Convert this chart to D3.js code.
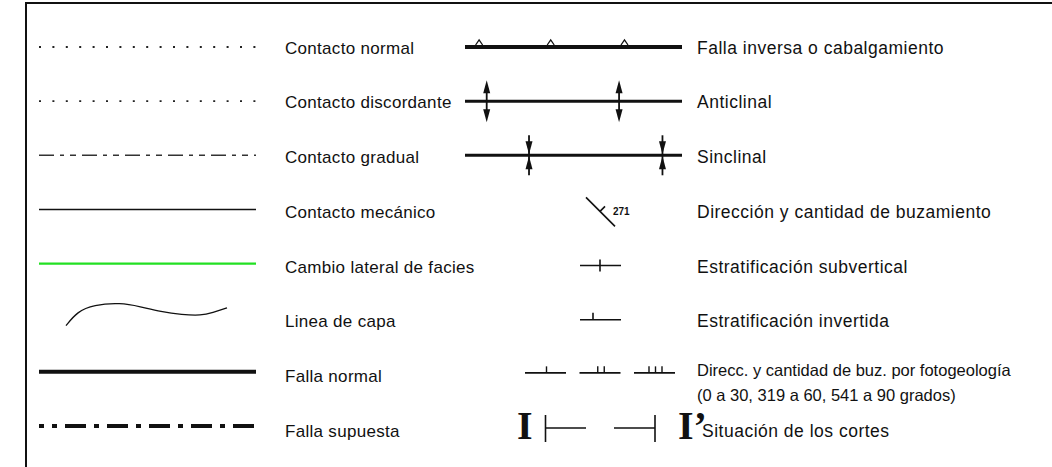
<!DOCTYPE html>
<html>
<head>
<meta charset="utf-8">
<script src="https://cdn.jsdelivr.net/npm/d3@7"></script>
<style>
  html, body { margin: 0; padding: 0; background: #fff; }
  svg { display: block; }
  .lbl { font-family: "Liberation Sans", Arial, Helvetica, sans-serif; fill: #111; }
  .lbl-left { font-size: 17px; letter-spacing: 0.3px; }
  .lbl-right { font-size: 17.5px; letter-spacing: 0.5px; }
  .lbl-small { font-size: 16.5px; letter-spacing: 0; }
</style>
</head>
<body>
<div id="legend"></div>
<script>
(function() {

// legend rows, top to bottom
var leftLabels = ["Contacto normal", "Contacto discordante", "Contacto gradual",
                  "Contacto mecánico", "Cambio lateral de facies", "Linea de capa",
                  "Falla normal", "Falla supuesta"];
var leftKinds  = ["dotted", "dotted", "dashdot", "solid", "green", "curve", "thick", "thickdashdot"];

var rightLabels = [["Falla inversa o cabalgamiento"], ["Anticlinal"], ["Sinclinal"],
                   ["Dirección y cantidad de buzamiento"], ["Estratificación subvertical"],
                   ["Estratificación invertida"],
                   ["Direcc. y cantidad de buz. por fotogeología", "(0 a 30, 319 a 60, 541 a 90 grados)"],
                   ["Situación de los cortes"]];
var midKinds = ["inversa", "anticlinal", "sinclinal", "buzamiento", "subvertical",
                "invertida", "fotogeo", "corte"];

var dipValue   = "271";
var fotoTicks  = [1, 2, 3];
var corteNames = ["I", "I’"];

// hand-traced "Linea de capa" sample (relative 0..1 along width, 0..1 height)
var capaTrace = [[0, 1], [0.07, 0.39], [0.17, 0.09], [0.34, 0], [0.46, 0.17], [0.59, 0.39],
                 [0.72, 0.52], [0.84, 0.56], [0.91, 0.43], [1, 0.22]];

var width = 1052, height = 467;

var svg = d3.select("#legend").append("svg")
            .attr("width", width)
            .attr("height", height);

// frame: only top and left edges show
svg.append("path")
   .attr("d", "M26,467V3H1052")
   .attr("fill", "none")
   .attr("stroke", "#111")
   .attr("stroke-width", 2);

var rows = d3.range(leftLabels.length);

// symbol rows and text rows drift apart a little toward the bottom
var yRow  = d3.scalePoint().domain(rows).range([47, 426]),
    yText = d3.scalePoint().domain(rows).range([47.5, 431]);

var leftX = d3.scaleLinear().domain([0, 1]).range([39, 256]),
    midX  = d3.scaleLinear().domain([0, 1]).range([465, 682]);

/**
 * Left column: line samples.
 */
var left = svg.append("g").attr("class", "left");

leftKinds.forEach(function(kind, i) {
    var y = yRow(i);
    if (kind === "curve") {
        var cy = d3.scaleLinear().domain([0, 1]).range([y - 15, y + 8]);
        var cx = d3.scaleLinear().domain([0, 1]).range([66, 227]);
        left.append("path")
            .attr("d", d3.line().curve(d3.curveBasis)
                         .x(function(d) { return cx(d[0]); })
                         .y(function(d) { return cy(d[1]); })(capaTrace))
            .attr("fill", "none")
            .attr("stroke", "#111")
            .attr("stroke-width", 1.3);
        return;
    }
    var ln = left.append("line")
                 .attr("x1", leftX(0)).attr("x2", leftX(1))
                 .attr("y1", y).attr("y2", y)
                 .attr("stroke", "#111");
    if (kind === "dotted") {
        ln.attr("stroke-width", 1.8).attr("stroke", "#222").attr("stroke-dasharray", "2,11.4");
    } else if (kind === "dashdot") {
        ln.attr("stroke-width", 1.6).attr("stroke", "#333").attr("stroke-dasharray", "15,6,4,6,6,6");
    } else if (kind === "solid") {
        ln.attr("stroke-width", 1.6);
    } else if (kind === "green") {
        ln.attr("stroke", "#22e022").attr("stroke-width", 2.2);
    } else if (kind === "thick") {
        ln.attr("stroke-width", 4);
    } else if (kind === "thickdashdot") {
        ln.attr("stroke-width", 4).attr("stroke-dasharray", "21,8,5,8").attr("stroke-dashoffset", 16);
    }
});

left.selectAll("text")
    .data(leftLabels)
    .join("text")
      .attr("class", "lbl lbl-left")
      .attr("x", 285)
      .attr("y", function(d, i) { return yText(i) + 6; })
      .text(function(d) { return d; });

/**
 * Middle column: structural symbols.
 */
var mid = svg.append("g").attr("class", "mid");

function arrowHead(g, x, tipY, dir) {
    // dir: -1 points up, +1 points down
    g.append("path")
     .attr("d", "M" + x + "," + tipY + "L" + (x - 3.5) + "," + (tipY - dir * 13) +
                "L" + (x + 3.5) + "," + (tipY - dir * 13) + "Z")
     .attr("fill", "#111");
}

function stroke(g, x1, y1, x2, y2, w) {
    g.append("line")
     .attr("x1", x1).attr("y1", y1).attr("x2", x2).attr("y2", y2)
     .attr("stroke", "#111").attr("stroke-width", w || 1.6);
}

midKinds.forEach(function(kind, i) {
    var y = yRow(i);
    var g = mid.append("g");
    if (kind === "inversa") {
        stroke(g, midX(0), y, midX(1), y, 4);
        [0.065, 0.395, 0.735].forEach(function(t) {
            var x = midX(t);
            g.append("path")
             .attr("d", "M" + (x - 3.5) + "," + (y - 2) + "L" + x + "," + (y - 7) + "L" + (x + 3.5) + "," + (y - 2))
             .attr("fill", "none").attr("stroke", "#111").attr("stroke-width", 1.3);
        });
    } else if (kind === "anticlinal") {
        stroke(g, midX(0), y, midX(1), y, 3);
        [0.1, 0.71].forEach(function(t) {
            var x = midX(t);
            stroke(g, x, y - 12, x, y + 12, 1.8);
            arrowHead(g, x, y - 21, -1);
            arrowHead(g, x, y + 21, 1);
        });
    } else if (kind === "sinclinal") {
        stroke(g, midX(0), y, midX(1), y, 3);
        [0.295, 0.91].forEach(function(t) {
            var x = midX(t);
            stroke(g, x, y - 20, x, y + 20, 1.8);
            arrowHead(g, x, y - 1, 1);
            arrowHead(g, x, y + 1, -1);
        });
    } else if (kind === "buzamiento") {
        var cx = 600, cy = y + 2;
        stroke(g, cx - 14, cy - 14, cx + 15, cy + 15, 1.6);
        stroke(g, cx, cy, cx + 5, cy - 5, 1.6);
        g.append("text")
         .attr("x", 613).attr("y", cy + 4)
         .attr("font-family", "Liberation Sans, Arial, sans-serif")
         .attr("font-size", 10)
         .attr("font-weight", "bold")
         .attr("fill", "#111")
         .text(dipValue);
    } else if (kind === "subvertical") {
        var yy = y + 2;
        stroke(g, 580, yy, 621, yy);
        stroke(g, 600, yy - 6, 600, yy + 6);
    } else if (kind === "invertida") {
        var yy = y + 2;
        stroke(g, 580, yy, 621, yy);
        stroke(g, 593, yy - 7, 593, yy);
    } else if (kind === "fotogeo") {
        var yy = y + 1;
        var groupX = d3.scalePoint().domain(fotoTicks).range([525, 634]);
        fotoTicks.forEach(function(n) {
            var x0 = groupX(n);
            stroke(g, x0, yy, x0 + 41, yy);
            var center = x0 + 21.5;
            for (var k = 0; k < n; k++) {
                var tx = center + (k - (n - 1) / 2) * 6.5;
                stroke(g, tx, yy - 6.5, tx, yy, 1.4);
            }
        });
    } else if (kind === "corte") {
        var yy = y + 2;
        stroke(g, 545.5, yy - 13, 545.5, yy + 14);
        stroke(g, 545.5, yy, 586, yy);
        stroke(g, 614, yy, 655, yy);
        stroke(g, 655, yy - 13, 655, yy + 14);
        g.selectAll("text.corte")
         .data(corteNames)
         .join("text")
           .attr("class", "corte")
           .attr("x", function(d, j) { return j === 0 ? 517 : 678; })
           .attr("y", yy + 11)
           .attr("font-family", "Liberation Serif, Times New Roman, serif")
           .attr("font-weight", "bold")
           .attr("font-size", 40)
           .attr("fill", "#111")
           .text(function(d) { return d; });
    }
});

/**
 * Right column: labels (one wraps onto two lines, set a touch smaller).
 */
var right = svg.append("g").attr("class", "right");

rightLabels.forEach(function(lines, i) {
    var twoLine = lines.length > 1;
    var base = twoLine ? yText(i) - 0.5 : yText(i) + 6;
    var x = midKinds[i] === "corte" ? 702 : 697;
    lines.forEach(function(t, k) {
        right.append("text")
             .attr("class", twoLine ? "lbl lbl-small" : "lbl lbl-right")
             .attr("x", x)
             .attr("y", base + k * 25)
             .text(t);
    });
});

})();
</script>
</body>
</html>
